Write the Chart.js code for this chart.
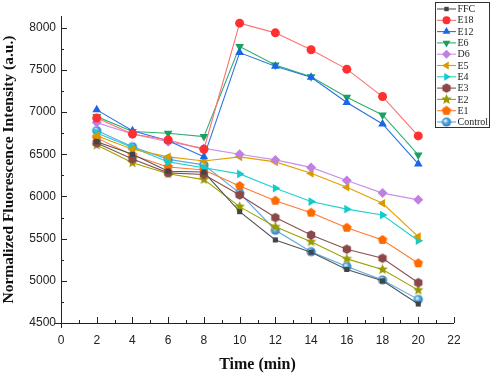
<!DOCTYPE html>
<html>
<head>
<meta charset="utf-8">
<script src="https://cdn.jsdelivr.net/npm/chart.js@4.4.0/dist/chart.umd.min.js"></script>
<style>
  html, body { margin: 0; padding: 0; background: #fff; }
  #wrap { width: 491px; height: 374px; }
</style>
</head>
<body>
<div id="wrap"><canvas id="chartFluo" width="491" height="374"></canvas></div>
<script>
const times = [2, 4, 6, 8, 10, 12, 14, 16, 18, 20];
const seriesNames = ['FFC', 'E18', 'E12', 'E6', 'D6', 'E5', 'E4', 'E3', 'E2', 'E1', 'Control'];
const ffc = [6650, 6500, 6300, 6290, 5820, 5485, 5340, 5135, 5000, 4725];
const e18 = [6930, 6740, 6670, 6560, 8055, 7940, 7740, 7510, 7185, 6718];
const e12 = [7027, 6780, 6660, 6470, 7706, 7545, 7413, 7114, 6860, 6386];
const e6 = [6947, 6770, 6750, 6710, 7778, 7560, 7420, 7177, 6967, 6493];
const d6 = [6876, 6740, 6650, 6570, 6500, 6434, 6345, 6190, 6040, 5960];
const e5 = [6720, 6560, 6470, 6420, 6470, 6410, 6275, 6110, 5920, 5525];
const e4 = [6754, 6580, 6410, 6340, 6268, 6098, 5940, 5850, 5780, 5476];
const e3 = [6635, 6445, 6280, 6260, 6018, 5750, 5544, 5375, 5267, 4978];
const e2 = [6610, 6400, 6270, 6200, 5880, 5640, 5464, 5260, 5135, 4890];
const e1 = [6695, 6490, 6350, 6315, 6125, 5950, 5808, 5630, 5485, 5208];
const control = [6781, 6590, 6440, 6375, 6040, 5600, 5346, 5170, 5010, 4780];
const yTicks = [4500, 5000, 5500, 6000, 6500, 7000, 7500, 8000];
const xTicks = [0, 2, 4, 6, 8, 10, 12, 14, 16, 18, 20, 22];

// small canvases for marker shapes chart.js does not have
function polyMarker(color, sides, r, star) {
    const c = document.createElement('canvas');
    const s = Math.ceil(r * 2 + 2);
    c.width = s; c.height = s;
    const g = c.getContext('2d');
    g.fillStyle = color;
    g.beginPath();
    const n = star ? sides * 2 : sides;
    for (let i = 0; i < n; i++) {
        const a = -Math.PI / 2 + i * Math.PI * 2 / n;
        const rr = star && i % 2 ? r * 0.45 : r;
        const px = s / 2 + rr * Math.cos(a), py = s / 2 + rr * Math.sin(a);
        if (i === 0) g.moveTo(px, py); else g.lineTo(px, py);
    }
    g.closePath();
    g.fill();
    return c;
}

function ballMarker(color, r) {
    const c = document.createElement('canvas');
    const s = Math.ceil(r * 2 + 2);
    c.width = s; c.height = s;
    const g = c.getContext('2d');
    const grd = g.createRadialGradient(s / 2 - 1.5, s / 2 - 1.5, 0.5, s / 2, s / 2, r);
    grd.addColorStop(0, '#e8f4ff');
    grd.addColorStop(0.5, color);
    grd.addColorStop(1, '#2a7fbf');
    g.fillStyle = grd;
    g.beginPath();
    g.arc(s / 2, s / 2, r, 0, Math.PI * 2);
    g.fill();
    return c;
}

const looks = [
    { line: '#555555', mark: '#444444', style: 'rect', rot: 0, r: 3.6 },
    { line: '#ff7070', mark: '#ff3030', style: 'circle', rot: 0, r: 4.5 },
    { line: '#2a72e0', mark: '#1a66e6', style: 'triangle', rot: 0, r: 5 },
    { line: '#2fb070', mark: '#1aa060', style: 'triangle', rot: 180, r: 5 },
    { line: '#c890e8', mark: '#c080e0', style: 'rectRot', rot: 0, r: 5 },
    { line: '#e0a000', mark: '#d99a00', style: 'triangle', rot: -90, r: 5 },
    { line: '#20d0d0', mark: '#10cccc', style: 'triangle', rot: 90, r: 5 },
    { line: '#8b5050', mark: '#8b4848', style: polyMarker('#8b4848', 6, 4.8, false), rot: 0, r: 5 },
    { line: '#a0a000', mark: '#999900', style: polyMarker('#999900', 5, 5.5, true), rot: 0, r: 5 },
    { line: '#ff7a30', mark: '#ff6a00', style: polyMarker('#ff6a00', 5, 5, false), rot: 0, r: 5 },
    { line: '#5aa8e0', mark: '#4aa3df', style: ballMarker('#4aa3df', 4.6), rot: 0, r: 5 }
];

const allValues = [ffc, e18, e12, e6, d6, e5, e4, e3, e2, e1, control];

const datasets = seriesNames.map((name, i) => ({
    label: name,
    data: times.map((t, j) => ({ x: t, y: allValues[i][j] })),
    borderColor: looks[i].line,
    backgroundColor: looks[i].mark,
    pointBorderColor: looks[i].mark,
    pointBackgroundColor: looks[i].mark,
    pointStyle: looks[i].style,
    pointRotation: looks[i].rot,
    pointRadius: looks[i].r,
    pointBorderWidth: 0,
    borderWidth: 1.1,
    tension: 0
}));

// inward ticks (major + minor) drawn by hand, Origin style
const originAxes = {
    id: 'originAxes',
    afterDraw(chart) {
        const ctx = chart.ctx;
        const xs = chart.scales.x, ys = chart.scales.y;
        const a = chart.chartArea;
        ctx.save();
        ctx.strokeStyle = '#222';
        ctx.lineWidth = 1;
        ctx.beginPath();
        ctx.moveTo(a.left + 0.5, a.top);
        ctx.lineTo(a.left + 0.5, a.bottom + 0.5);
        ctx.lineTo(a.right, a.bottom + 0.5);
        ctx.stroke();
        ctx.beginPath();
        for (let v = 4500; v <= 8000; v += 250) {
            const py = Math.round(ys.getPixelForValue(v)) + 0.5;
            const len = v % 500 === 0 ? 6 : 3;
            ctx.moveTo(a.left, py);
            ctx.lineTo(a.left + len, py);
        }
        ctx.moveTo(a.left - 6, a.bottom + 0.5);
        ctx.lineTo(a.left, a.bottom + 0.5);
        for (let v = 0; v <= 22; v += 1) {
            const px = Math.round(xs.getPixelForValue(v)) + 0.5;
            const len = v % 2 === 0 ? 6 : 3;
            ctx.moveTo(px, a.bottom);
            ctx.lineTo(px, a.bottom - len);
        }
        ctx.moveTo(a.left + 0.5, a.bottom);
        ctx.lineTo(a.left + 0.5, a.bottom + 5);
        ctx.stroke();
        ctx.restore();
    }
};

// boxed legend with line + marker, like the Origin one
const boxLegend = {
    id: 'boxLegend',
    afterDraw(chart) {
        const ctx = chart.ctx;
        const x0 = 435, y0 = 2, w = 54, h = 125;
        ctx.save();
        ctx.fillStyle = '#fff';
        ctx.fillRect(x0, y0, w, h);
        ctx.strokeStyle = '#333';
        ctx.lineWidth = 1;
        ctx.strokeRect(x0 + 0.5, y0 + 0.5, w, h);
        ctx.font = '10px "Liberation Serif", serif';
        ctx.textBaseline = 'middle';
        seriesNames.forEach((name, i) => {
            const cy = y0 + 7 + i * 11.3;
            ctx.strokeStyle = looks[i].line;
            ctx.lineWidth = 1.1;
            ctx.beginPath();
            ctx.moveTo(x0 + 2, cy);
            ctx.lineTo(x0 + 21, cy);
            ctx.stroke();
            ctx.fillStyle = looks[i].mark;
            ctx.strokeStyle = looks[i].mark;
            Chart.helpers.drawPoint(ctx, {
                pointStyle: looks[i].style,
                rotation: looks[i].rot,
                radius: looks[i].r - 0.5,
                borderWidth: 0
            }, x0 + 11.5, cy);
            ctx.fillStyle = '#222';
            ctx.fillText(name, x0 + 22.5, cy + 0.5);
        });
        ctx.restore();
    }
};

new Chart(document.getElementById('chartFluo'), {
    type: 'line',
    data: { datasets: datasets },
    options: {
        responsive: false,
        animation: false,
        layout: { padding: { top: 16, right: 37, left: 0, bottom: 0 } },
        plugins: {
            legend: { display: false },
            tooltip: { enabled: false }
        },
        scales: {
            x: {
                type: 'linear',
                min: 0,
                max: 22,
                afterBuildTicks: s => { s.ticks = xTicks.map(v => ({ value: v })); },
                grid: { display: false, drawTicks: false },
                border: { display: false },
                ticks: {
                    color: '#222',
                    font: { family: 'Liberation Sans', size: 12 },
                    padding: 10,
                    callback: v => String(v)
                },
                title: {
                    display: true,
                    text: 'Time (min)',
                    color: '#111',
                    font: { family: 'Liberation Serif', size: 16, weight: 'bold' },
                    padding: { top: 2, bottom: 0 }
                },
                afterFit: s => { s.height = 51; }
            },
            y: {
                type: 'linear',
                min: 4500,
                max: 8140,
                afterBuildTicks: s => { s.ticks = yTicks.map(v => ({ value: v })); },
                grid: { display: false, drawTicks: false },
                border: { display: false },
                ticks: {
                    color: '#222',
                    font: { family: 'Liberation Sans', size: 12 },
                    padding: 5,
                    callback: v => String(v)
                },
                title: {
                    display: true,
                    text: 'Normalized Fluorescence Intensity (a.u.)',
                    color: '#111',
                    font: { family: 'Liberation Serif', size: 15.5, weight: 'bold' },
                    padding: { top: 0, bottom: 2 }
                },
                afterFit: s => { s.width = 61; }
            }
        }
    },
    plugins: [originAxes, boxLegend]
});
</script>
</body>
</html>
